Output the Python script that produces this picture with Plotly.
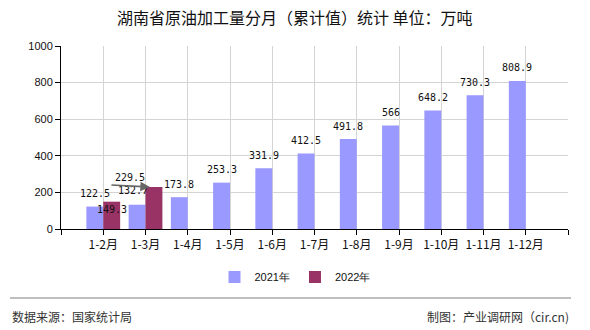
import plotly.graph_objects as go

categories = ["1-2月", "1-3月", "1-4月", "1-5月", "1-6月", "1-7月", "1-8月", "1-9月", "1-10月", "1-11月", "1-12月"]
values_2021 = [122.5, 132.7, 173.8, 253.3, 331.9, 412.5, 491.8, 566, 648.2, 730.3, 808.9]
values_2022 = [149.3, 229.5]
series_names = ["2021年", "2022年"]
y_ticks = [0, 200, 400, 600, 800, 1000]

C2021 = "#9999FF"
C2022 = "#993366"

L, R, T, B = 61, 22, 46, 101
W, H = 590, 330
PW, PH = W - L - R, H - T - B

def px_x(p):
    return (p - L) / PW

def px_y(p):
    return (H - B - p) / PH

x21 = list(range(len(values_2021)))
x22 = list(range(len(values_2022)))

fig = go.Figure()
fig.add_trace(go.Bar(x=x21, y=values_2021, name=series_names[0], marker=dict(color=C2021, line=dict(width=0))))
fig.add_trace(go.Bar(x=x22, y=values_2022, name=series_names[1], marker=dict(color=C2022, line=dict(width=0))))

lab_font = dict(family="DejaVu Sans Mono", size=10, color="#111111")
ann = []
off21 = {1: (-4, 14)}
for i, v in zip(x21, values_2021):
    dx, dy = off21.get(i, (0, 13))
    ann.append(dict(x=i - 0.2, y=v, xref="x", yref="y", text=f"{v:g}", showarrow=False,
                    xanchor="center", yanchor="middle", xshift=dx, yshift=dy, font=lab_font))
off22 = {0: (0, -8), 1: (-24, 10)}
for i, v in zip(x22, values_2022):
    dx, dy = off22.get(i, (0, 13))
    ann.append(dict(x=i + 0.2, y=v, xref="x", yref="y", text=f"{v:g}", showarrow=False,
                    xanchor="center", yanchor="middle", xshift=dx, yshift=dy, font=lab_font))
# leader arrow for the displaced 2022 label
ann.append(dict(x=x22[1] + 0.2, y=values_2022[1], xref="x", yref="y", text=" ", showarrow=True,
                ax=-40, ay=-2, arrowhead=2, arrowsize=1.2, arrowwidth=1.6, arrowcolor="#666666",
                xshift=-4, font=dict(size=1), standoff=0, startstandoff=0))

ann.append(dict(x=px_x(295), y=px_y(17), xref="paper", yref="paper", text="湖南省原油加工量分月（累计值）统计 单位：万吨",
                showarrow=False, xanchor="center", yanchor="middle",
                font=dict(family="Noto Sans CJK SC", size=16, color="#111111")))
ann.append(dict(x=px_x(10), y=px_y(316), xref="paper", yref="paper", text="数据来源：国家统计局",
                showarrow=False, xanchor="left", yanchor="middle",
                font=dict(family="Noto Sans CJK SC", size=12, color="#333333")))
ann.append(dict(x=px_x(571), y=px_y(316), xref="paper", yref="paper", text="制图：产业调研网（cir.cn)",
                showarrow=False, xanchor="right", yanchor="middle",
                font=dict(family="Noto Sans CJK SC", size=12, color="#333333")))

n = len(categories)
tickvals = list(range(-1, n + 1))
ticktext = [""] + categories + [""]

fig.update_layout(
    width=W, height=H,
    margin=dict(l=L, r=R, t=T, b=B, autoexpand=False),
    paper_bgcolor="white", plot_bgcolor="white",
    barmode="group", bargap=0.2, bargroupgap=0,
    showlegend=True,
    legend=dict(orientation="h", x=0.5, xref="container", xanchor="center",
                y=1 - 277 / H, yref="container", yanchor="middle",
                font=dict(family="Liberation Sans", size=11, color="#111111"),
                itemwidth=30, traceorder="normal"),
    annotations=ann,
    shapes=[dict(type="line", xref="paper", yref="paper", x0=px_x(10), x1=px_x(571),
                 y0=px_y(298), y1=px_y(298), line=dict(color="#808080", width=1.2))],
    font=dict(family="Liberation Sans", size=11, color="#111111"),
)
fig.update_xaxes(range=[-1, n], tickvals=tickvals, ticktext=ticktext, showgrid=True, automargin=False,
                 gridcolor="#d4d4d4", gridwidth=1, showline=True, linecolor="#000000", linewidth=1,
                 ticks="outside", ticklen=5, tickcolor="#000000", zeroline=False,
                 tickfont=dict(family="Noto Sans CJK SC", size=12, color="#111111"))
fig.update_yaxes(range=[0, 1000], tickvals=y_ticks, showgrid=True, gridcolor="#d4d4d4", gridwidth=1,
                 showline=True, linecolor="#000000", linewidth=1, ticks="outside", ticklen=5,
                 tickcolor="#000000", zeroline=False, automargin=False,
                 tickfont=dict(family="Liberation Sans", size=11, color="#111111"))

fig.write_html("out.html")
